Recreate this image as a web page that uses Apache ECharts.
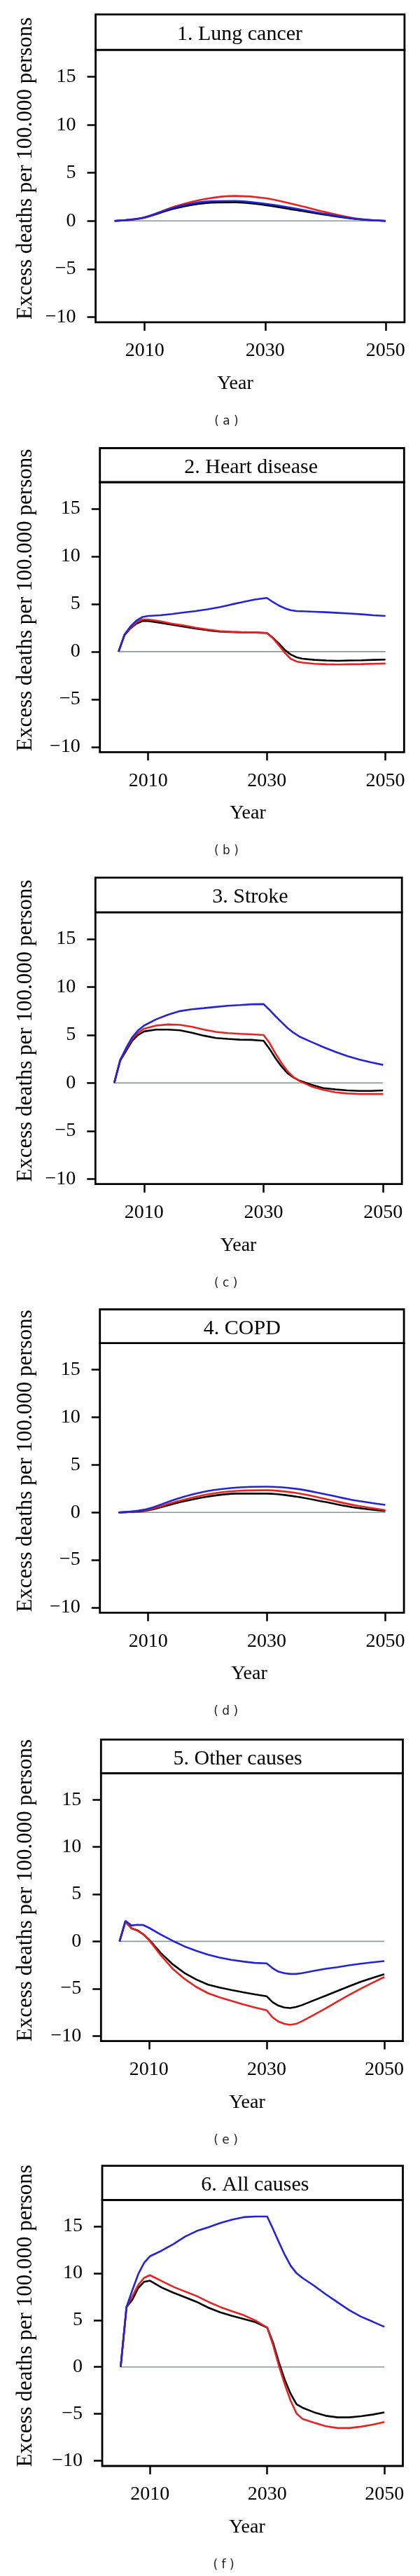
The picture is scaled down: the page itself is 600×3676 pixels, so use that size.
<!DOCTYPE html>
<html><head><meta charset="utf-8">
<script src="https://cdn.jsdelivr.net/npm/echarts@6/dist/echarts.min.js"></script>
<style>html,body{margin:0;padding:0;background:#fff}#c{width:600px;height:3676px}</style>
</head><body><div id="c"></div>
<script>
// ---------- data ----------
const yearsFine = [2005,2006,2007,2008,2009,2010,2012,2014,2016,2018,2020,2022,2024,2026,2028,2030,2031,2032,2033,2034,2035,2036,2038,2040,2042,2044,2046,2048,2050];
const yearsCoarse = [2005,2007,2010,2015,2020,2025,2030,2035,2040,2045,2050];
const zeroYears = [2005, 2050];
const xTicks = [2010, 2030, 2050];
const yTicks = [-10, -5, 0, 5, 10, 15];
const panelTitles = ['1. Lung cancer','2. Heart disease','3. Stroke','4. COPD','5. Other causes','6. All causes'];
const panelLetters = ['( a )','( b )','( c )','( d )','( e )','( f )'];
const yTitle = 'Excess deaths per 100.000 persons';
const xTitle = 'Year';

const lungBlack = [0,0.08,0.35,1.3,1.85,1.93,1.65,1.15,0.64,0.2,0];
const lungRed   = [0,0.08,0.35,1.5,2.28,2.6,2.37,1.7,0.92,0.26,0];
const lungBlue  = [0,0.09,0.38,1.41,2.0,2.08,1.79,1.3,0.72,0.23,0];

const heartBlack = [0,1.74,2.45,2.94,3.21,3.21,3.04,2.82,2.62,2.43,2.25,2.11,2.06,2.03,2.01,1.96,1.47,0.88,0.2,-0.29,-0.59,-0.74,-0.86,-0.93,-0.96,-0.93,-0.91,-0.86,-0.83];
const heartRed   = [0,1.79,2.52,3.09,3.38,3.38,3.19,2.94,2.75,2.52,2.33,2.16,2.08,2.03,2.01,1.96,1.42,0.69,-0.1,-0.74,-1.03,-1.15,-1.27,-1.32,-1.35,-1.32,-1.3,-1.27,-1.25];
const heartBlue  = [0,1.79,2.65,3.26,3.63,3.75,3.82,3.95,4.12,4.26,4.44,4.66,4.95,5.22,5.47,5.64,5.22,4.85,4.56,4.36,4.26,4.24,4.19,4.14,4.07,4.0,3.92,3.82,3.75];

const strokeBlack = [0,2.32,3.37,4.39,5.0,5.37,5.56,5.56,5.49,5.24,4.93,4.68,4.59,4.51,4.49,4.39,3.54,2.56,1.71,1.02,0.56,0.24,-0.2,-0.54,-0.68,-0.78,-0.83,-0.83,-0.78];
const strokeRed   = [0,2.39,3.54,4.59,5.24,5.66,5.98,6.1,6.05,5.85,5.56,5.32,5.2,5.12,5.07,5.0,4.15,3.05,2.07,1.22,0.61,0.2,-0.37,-0.73,-0.98,-1.1,-1.15,-1.15,-1.15];
const strokeBlue  = [0,2.39,3.66,4.76,5.49,5.98,6.63,7.12,7.49,7.68,7.8,7.93,8.05,8.12,8.2,8.22,7.61,6.95,6.34,5.73,5.24,4.83,4.27,3.73,3.24,2.8,2.44,2.15,1.88];

const copdBlack = [0,0.05,0.23,1.02,1.66,1.98,1.98,1.66,1.08,0.5,0.15];
const copdRed   = [0,0.06,0.29,1.17,1.89,2.27,2.33,2.04,1.4,0.73,0.23];
const copdBlue  = [0,0.08,0.38,1.46,2.24,2.62,2.71,2.48,1.89,1.25,0.79];

const otherBlack = [0,2.13,1.39,1.19,0.77,0.2,-1.22,-2.41,-3.33,-4.02,-4.57,-4.89,-5.14,-5.38,-5.61,-5.81,-6.43,-6.8,-7.0,-7.05,-6.95,-6.75,-6.25,-5.76,-5.26,-4.76,-4.27,-3.87,-3.47];
const otherRed   = [0,2.08,1.39,1.14,0.77,0.15,-1.46,-2.88,-3.95,-4.81,-5.48,-5.93,-6.3,-6.67,-7.0,-7.3,-8.04,-8.49,-8.73,-8.83,-8.73,-8.46,-7.79,-7.1,-6.38,-5.68,-5.01,-4.37,-3.77];
const otherBlue  = [0,2.18,1.69,1.76,1.74,1.44,0.72,0.07,-0.52,-0.99,-1.39,-1.71,-1.96,-2.13,-2.28,-2.33,-2.83,-3.2,-3.37,-3.45,-3.45,-3.37,-3.13,-2.9,-2.73,-2.53,-2.36,-2.21,-2.08];

const allBlack = [0,6.39,7.18,8.42,9.08,9.2,8.47,7.92,7.43,6.93,6.31,5.82,5.45,5.12,4.78,4.2,2.6,0.5,-1.36,-2.85,-3.96,-4.33,-4.83,-5.2,-5.37,-5.37,-5.25,-5.07,-4.83];
const allRed   = [0,6.4,7.55,8.75,9.5,9.78,9.16,8.54,8.04,7.55,6.93,6.39,5.94,5.52,4.95,4.2,2.35,0.12,-1.86,-3.59,-4.95,-5.52,-5.94,-6.31,-6.51,-6.51,-6.36,-6.14,-5.87];
const allBlue  = [0,6.4,8.2,9.9,11.1,11.8,12.4,13.1,13.9,14.5,14.9,15.35,15.7,15.97,16.04,16.04,14.7,13.3,11.95,10.8,10.0,9.5,8.66,7.75,6.9,6.06,5.37,4.83,4.28];

// ---------- layout (pixels) ----------
const layout = [
  {L:136.6,R:577.9,T:20.6,S:71.2,B:459.9,tx:342.5,yearX:336,letX:323.4},
  {L:142.7,R:577.3,T:639.5,S:688,B:1073.3,tx:358.6,yearX:354,letX:323.4},
  {L:136.3,R:574.2,T:1252.4,S:1301.8,B:1689.7,tx:357.4,yearX:340.6,letX:322.6},
  {L:142.7,R:577.1,T:1868.5,S:1916.7,B:2301.4,tx:345.8,yearX:356,letX:322.6},
  {L:144.3,R:575.5,T:2482.4,S:2530.5,B:2912.6,tx:339.6,yearX:353,letX:322.6},
  {L:146,R:575.5,T:3090.6,S:3139.4,B:3519,tx:364.3,yearX:353,letX:319.6}
];
const panelSeries = [
  {years:yearsCoarse, black:lungBlack, red:lungRed, blue:lungBlue, smooth:0.35},
  {years:yearsFine, black:heartBlack, red:heartRed, blue:heartBlue, smooth:false},
  {years:yearsFine, black:strokeBlack, red:strokeRed, blue:strokeBlue, smooth:false},
  {years:yearsCoarse, black:copdBlack, red:copdRed, blue:copdBlue, smooth:0.35},
  {years:yearsFine, black:otherBlack, red:otherRed, blue:otherBlue, smooth:false},
  {years:yearsFine, black:allBlack, red:allRed, blue:allBlue, smooth:false}
];

const FONT = 'Liberation Serif';
const COLORS = {black:'#000000', red:'#e52421', blue:'#2424d6', zero:'#8a9a98'};
const zip = (xs, ys) => xs.map((x, i) => [x, ys[i]]);
const fmtY = v => v < 0 ? '\u2212' + Math.abs(v) : String(v);
const fmtX = v => String(Math.round(v));

const grids = [], xAxes = [], yAxes = [], series = [], graphics = [];
layout.forEach((p, i) => {
  grids.push({left:p.L, top:p.S, width:p.R - p.L, height:p.B - p.S, show:true,
    borderColor:'#000', borderWidth:2.8, backgroundColor:'transparent', containLabel:false});
  xAxes.push({type:'value', gridIndex:i, min:2001.85, max:2053.15,
    axisLine:{show:false, onZero:false}, splitLine:{show:false},
    axisTick:{show:true, inside:false, length:12, customValues:xTicks, lineStyle:{color:'#000', width:2.5}},
    axisLabel:{customValues:xTicks, fontFamily:FONT, fontSize:28, color:'#000', margin:27, formatter:fmtX}});
  yAxes.push({type:'value', gridIndex:i, min:-10.55, max:17.8,
    axisLine:{show:false, onZero:false}, splitLine:{show:false},
    axisTick:{show:true, inside:false, length:12, customValues:yTicks, lineStyle:{color:'#000', width:2.5}},
    axisLabel:{customValues:yTicks, fontFamily:FONT, fontSize:28, color:'#000', margin:28, formatter:fmtY}});
  const ps = panelSeries[i];
  series.push({type:'line', xAxisIndex:i, yAxisIndex:i, data:zip(zeroYears,[0,0]), symbol:'none',
    lineStyle:{color:COLORS.zero, width:1.6}, silent:true, animation:false, z:2});
  ['black','red','blue'].forEach((c, k) => {
    series.push({type:'line', xAxisIndex:i, yAxisIndex:i, data:zip(ps.years, ps[c]), symbol:'none',
      smooth:ps.smooth, lineStyle:{color:COLORS[c], width:2.6}, silent:true, animation:false, z:3 + k});
  });
  graphics.push({type:'rect', shape:{x:p.L, y:p.T, width:p.R - p.L, height:p.S - p.T},
    style:{fill:'#fff', stroke:'#000', lineWidth:2.8}, z:10});
  graphics.push({type:'text', x:p.tx, y:(p.T + p.S) / 2 + 3.5,
    style:{text:panelTitles[i], font:'30px "' + FONT + '"', fill:'#000', textAlign:'center', textVerticalAlign:'middle'}, z:11});
  graphics.push({type:'text', x:36.4, y:(p.T + p.B) / 2, rotation:Math.PI / 2,
    style:{text:yTitle, font:'31px "' + FONT + '"', fill:'#000', textAlign:'center', textVerticalAlign:'middle'}, z:11});
  graphics.push({type:'text', x:p.yearX, y:p.B + 87.6,
    style:{text:xTitle, font:'28px "' + FONT + '"', fill:'#000', textAlign:'center', textVerticalAlign:'middle'}, z:11});
  graphics.push({type:'text', x:p.letX, y:p.B + 141.5,
    style:{text:panelLetters[i], font:'17px "DejaVu Sans"', fill:'#222', textAlign:'center', textVerticalAlign:'middle'}, z:11});
});

const chart = echarts.init(document.getElementById('c'), null, {renderer:'canvas'});
chart.setOption({animation:false, backgroundColor:'#fff', grid:grids, xAxis:xAxes, yAxis:yAxes, series:series, graphic:graphics});
</script></body></html>
